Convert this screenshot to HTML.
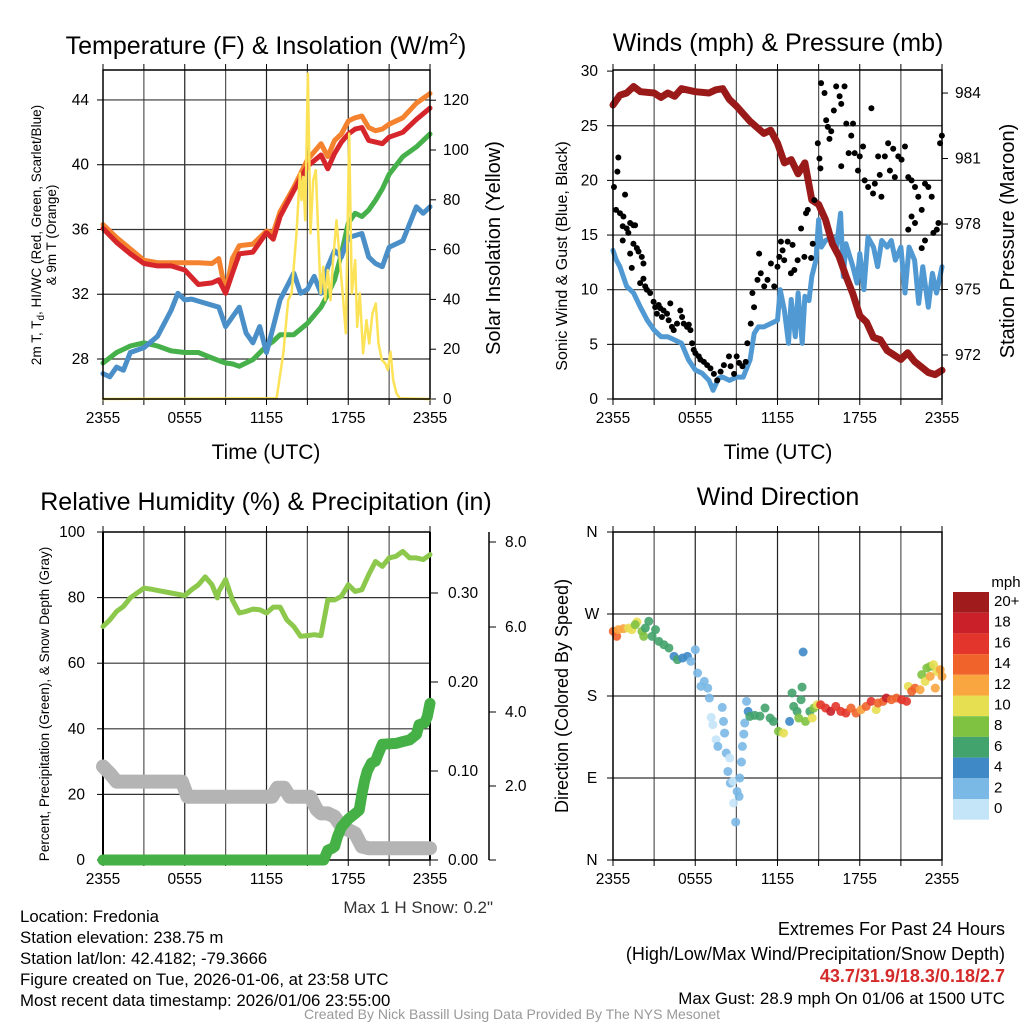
<!DOCTYPE html>
<html><head><meta charset="utf-8"><style>
body{margin:0;background:#fff;width:1024px;height:1024px;overflow:hidden;font-family:"Liberation Sans",sans-serif}
svg text{font-family:"Liberation Sans",sans-serif}
</style></head><body>
<svg id="s" width="1024" height="1024" xmlns="http://www.w3.org/2000/svg"></svg>
<script>
// ---------- Panel 1 data ----------
const tHours=[0,1,2,3,4,5,6,7,8,8.5,9,9.5,10,11,12,12.5,13,14,15,16,16.5,17,17.5,18,18.5,19,19.5,20,20.5,21,22,23,24];
const tRed=[36.06,35.2,34.5,33.9,33.75,33.75,33.5,32.6,32.7,32.9,32.06,33.3,34.5,34.6,35.8,35.4,36.8,38.4,39.9,40.6,39.75,40.7,41.4,41.9,42.2,42.3,41.5,41.4,41.3,41.7,42.0,42.8,43.5];
const tOrange=[36.3,35.5,34.8,34.1,33.95,33.95,33.95,33.95,33.9,34.2,32.1,34.2,35.0,35.1,35.9,35.8,37.1,38.6,40.3,41.3,40.5,41.5,41.9,42.7,42.9,43.0,42.3,42.1,42.2,42.5,42.9,43.8,44.4];
const tGreen=[27.75,28.4,28.8,29.0,28.8,28.5,28.4,28.4,28.06,27.9,27.75,27.7,27.55,27.96,28.8,29.1,29.5,29.5,30.2,31.2,32.0,32.9,34.5,36.4,37.0,36.8,37.2,37.8,38.5,39.4,40.5,41.1,41.9];
const hiHours=[0,0.5,1,1.5,2,3,4,5,5.5,6,6.5,8.5,9,10,10.5,11,11.5,12,12.5,13,14,14.5,15,15.5,16,16.5,17,17.5,18,19,19.5,20,20.5,21,22,23,23.5,24];
const hiBlue=[27.1,26.9,27.5,27.3,28.4,28.7,29.4,31.0,32.06,31.65,31.7,31.2,30.0,31.2,29.6,29.0,30.0,28.4,30.0,31.65,33.3,32.06,32.3,33.1,32.06,33.7,34.7,34.3,35.5,35.75,34.3,33.9,33.7,34.9,35.3,37.4,37.0,37.4];
const solHours=[0,12.74,13.23,13.59,13.84,14.2,14.45,14.57,14.69,14.84,15.04,15.23,15.43,15.62,15.82,15.97,16.16,16.31,16.5,16.7,16.89,17.14,17.38,17.63,17.82,18.07,18.26,18.51,18.66,18.85,19.09,19.34,19.54,19.78,20.02,20.22,20.46,20.71,20.9,21.1,21.3,21.54,21.78,24];
const solar=[0,0.3,18.3,39.7,42.4,66.5,90.6,79.9,89.2,71.8,130.7,66.5,87.9,91.9,63.8,42.4,53.1,39.7,51.8,39.7,55.8,71.8,55.8,39.7,26.4,106.6,42.4,55.8,29,42.4,18.3,31.7,22.3,34.4,38.4,22.3,15.7,14.3,11.6,19,7.6,2.3,0.3,0];
// ---------- Panel 2 data ----------
const pHours=[0,0.5,1,1.5,2,3,3.5,4,4.5,5,6,7,7.5,8,8.5,9,10,11,11.5,12,12.5,13,13.5,14,14.5,15,15.5,16,16.5,17,17.5,18,18.5,19,19.5,20,20.5,21,21.5,22,23,23.5,24];
const pressure=[983.45,983.9,984,984.3,984.06,984,983.8,984,983.85,984.2,984.06,984,984.15,984.2,983.7,983.4,982.7,982.15,982.3,981.7,980.8,980.95,980.3,980.8,979.1,978.9,978.2,977.1,976.5,975.6,974.8,973.8,973.5,972.8,972.7,972.2,972,971.8,972.1,971.7,971.2,971.1,971.3];
const wHours=[0,0.25,0.5,0.75,1,1.5,2,2.5,3,3.5,4,4.5,5,5.5,6,6.5,7,7.3,7.7,8,8.5,9,9.5,10,10.3,10.6,11,11.5,12,12.2,12.5,12.8,13,13.3,13.5,13.8,14,14.3,14.5,14.8,15,15.2,15.5,16,16.3,16.6,16.8,17,17.5,17.8,18,18.3,18.6,19,19.3,19.6,20,20.3,20.6,21,21.3,21.6,22,22.3,22.6,23,23.3,23.6,24];
const wind=[13.6,12.7,12.1,11.2,10.3,9.7,8.4,7.2,6.3,5.7,5.7,5.4,5.1,3.6,2.65,2.35,1.7,0.8,1.9,2.0,1.7,2.0,2.0,3.6,6.0,6.6,6.6,6.9,7.2,10.0,8.1,5.1,9.1,5.7,9.7,5.1,9.4,9.0,11.2,12.7,16.4,13.9,14.5,14.8,13.9,17.0,11.2,14.2,12.1,10.6,13.3,10.0,14.8,13.9,12.1,14.5,13.9,14.5,12.7,13.9,9.7,13.9,12.7,8.75,12.1,8.4,11.5,9.7,12.1];
const gHours=[0.07,0.22,0.39,0.32,0.51,0.76,0.88,0.71,1.0,1.25,1.49,1.61,0.71,1.12,1.25,1.49,1.74,1.86,2.1,2.22,1.37,1.98,2.22,2.35,2.47,2.71,2.96,3.08,3.33,3.45,3.2,3.69,3.57,3.94,4.18,4.06,4.3,4.43,4.67,4.91,5.04,5.16,5.4,5.53,5.65,5.77,5.89,6.01,6.26,6.38,6.63,6.87,7.11,7.36,7.6,7.85,8.09,8.46,8.58,8.83,9.02,9.19,9.44,9.68,9.8,10.05,10.29,10.17,10.54,10.66,10.78,11.03,11.27,11.52,11.76,12.0,12.13,12.25,12.37,12.49,12.74,12.98,13.1,13.23,13.47,13.72,13.96,14.08,14.21,14.45,14.57,14.69,14.94,15.06,15.13,15.18,15.43,15.55,15.67,15.79,15.92,16.11,16.28,16.53,16.65,16.89,17.02,16.65,17.19,17.38,17.51,17.63,17.87,18.0,18.24,18.36,18.61,18.85,18.97,19.1,19.34,19.46,19.58,19.83,20.07,20.2,20.44,20.56,20.81,21.05,21.3,21.54,21.78,22.03,22.27,22.52,22.76,23.0,23.25,23.37,23.62,23.74,23.99,23.86,21.78,21.54,22.76,22.52,22.03];
const gust=[19.4,17.3,22.1,20.8,17.0,16.7,18.7,15.8,15.6,16.1,15.9,15.9,14.5,15.2,13.3,14.2,13.8,13.5,13.0,12.4,12.0,10.6,11.0,10.3,10.0,9.7,8.9,8.4,8.6,8.3,7.8,8.1,7.5,7.8,8.75,7.2,6.6,6.3,6.9,8.1,7.5,6.9,6.6,6.8,6.3,5.1,4.5,4.2,3.9,3.6,3.4,3.1,2.8,2.3,1.7,2.5,3.1,3.9,3.0,2.3,3.9,3.3,3.0,3.4,5.1,6.9,8.4,9.7,10.9,13.3,11.5,10.3,10.9,12.4,10.3,12.1,13.0,14.4,13.6,12.7,14.4,11.5,14.1,11.8,12.7,15.6,13.0,17.0,17.3,12.9,14.2,18.2,23.4,22.0,21.1,28.9,28.0,25.5,24.9,23.8,24.5,26.4,28.6,27.7,27.0,28.6,25.2,21.3,22.5,24.1,25.2,22.5,20.9,22.2,23.1,20.0,19.4,26.6,18.8,19.7,22.2,20.5,18.5,22.2,23.4,20.9,22.9,20.3,22.2,21.9,23.1,20.3,20.0,19.4,18.5,17.3,19.7,19.4,18.5,15.2,15.5,16.1,24.1,23.4,16.7,15.5,14.5,13.8,16.1];
// ---------- Panel 3 data ----------
const rhHours=[0,0.5,1,1.5,2,2.5,3,3.5,4,5,6,6.5,7,7.5,8,8.4,8.5,9,9.5,10,10.5,11,11.5,12,12.5,13,13.5,14,14.5,15,15.5,16,16.5,17,17.5,18,18.5,19,19.5,20,20.5,21,21.5,22,22.5,23,23.5,24];
const rh=[71.2,73.2,75.8,77.3,79.9,81.4,82.9,82.6,82.2,81.4,80.6,82.4,83.9,86.3,83.9,79.9,81.9,85.5,79.3,75.3,75.8,76.5,76.3,75.3,77.1,77.1,73.2,71.2,68.2,68.4,68.7,68.4,79.3,79.3,80.4,83.9,81.9,82.4,87,91,89.5,92.1,92.6,94.1,92.1,92.1,91.6,93.1];
const snowHours=[0,0.5,1,5.8,6.2,12.4,12.8,13.3,13.7,15.2,15.7,16,16.5,17,17.5,18.5,19,19.5,24];
const snowDepth=[28.5,26.4,23.9,23.9,19.3,19.3,22.0,22.0,19.3,19.3,15.3,14.2,14.2,13.2,10.2,8.1,4.1,3.6,3.6];
const prHours=[0,16.2,16.5,16.8,17,17.2,17.5,18,18.5,18.8,19,19.2,19.4,19.7,20,20.2,20.5,21.5,22,22.5,23,23.2,23.6,23.8,24];
const precip=[0,0,0.011,0.013,0.015,0.026,0.037,0.046,0.052,0.056,0.074,0.089,0.1,0.109,0.111,0.119,0.13,0.131,0.133,0.135,0.141,0.152,0.154,0.161,0.176];
// ---------- Panel 4 data ----------
const dHours=[0.02,0.27,0.39,0.76,1.13,1.38,1.75,1.62,2.11,2.24,2.36,2.61,2.85,3.1,3.34,3.71,4.08,4.45,4.7,5.07,5.43,5.68,6.0,6.17,6.42,6.66,6.91,7.03,7.16,7.28,7.52,7.65,7.97,8.06,8.14,8.26,8.38,8.51,8.56,8.75,8.8,8.95,9.05,9.2,9.25,9.37,9.44,9.54,9.61,9.74,9.86,9.98,10.35,10.72,11.09,11.46,11.7,12.07,12.44,12.88,13.06,13.18,13.43,13.55,13.72,13.79,13.87,14.04,14.36,14.53,14.65,14.9,15.15,15.51,15.88,16.25,16.62,16.99,17.36,17.73,18.1,18.47,18.83,19.2,19.33,19.7,19.94,20.31,20.68,21.05,21.42,21.54,21.79,22.03,22.4,22.52,22.77,22.89,23.14,23.38,23.51,23.63,23.87,24.0,23.14];
const dDir=[251,245.5,252.8,253.9,254.6,252.8,261.2,258.3,251,245.5,254.6,262,245.5,252.8,240,236.3,232.7,223.5,219.9,221.7,223.5,218,230.8,205.2,190.6,196,188.7,177.8,156.5,148.5,132,124.7,167.5,152.1,139.3,117.4,97.2,111.9,84.4,86.3,62.5,41.6,75.3,69.8,90,107.5,124.7,138.2,150.3,174.1,163.1,157.6,158.7,157.9,166.8,155.8,152.1,141.2,139.3,152.1,183.3,168.6,163.1,155.8,175.9,189.8,228.3,152.1,163.1,155.8,166.8,170.4,170.4,166.8,163.1,168.6,163.1,161.3,166.8,161.3,165,168.6,174.1,165,172.3,174.1,177.8,175.9,177.8,175.9,174.1,190.6,185.1,188.7,186.9,203.4,196,210.7,212.5,214.4,188.7,207,208.9,201.6,201.6];
const dSpeed=[14,15,13,12,11,10,10,9,8,8,7,6,6,6,6,6,6,5,6,4,4,3,3,3,2,2,2,2,1,0,0,2,2,2,2,2,2,0,2,0,0,2,2,2,2,2,2,2,2,2,4,6,6,6,6,6,6,9,10,4,7,6,7,8,7,6,4,8,7,10,9,11,17,17,18,17,16,16,15,14,13,14,17,10,14,15,18,14,15,16,17,10,14,15,12,9,10,8,9,10,12,11,13,12,12];
const cbLabels=["20+","18","16","14","12","10","8","6","4","2","0"];
const cbColors=["#a01c1c","#c9202a","#e3352b","#f0642c","#f9a540","#e7df52","#7fc241","#43a36c","#3f8ac6","#7ab8e6","#c4e4f8"];

const NS="http://www.w3.org/2000/svg";
const svg=document.getElementById('s');
const TK=15.5;
function mk(tag,attrs,parent,name,inter){const e=document.createElementNS(NS,tag);for(const k in attrs)e.setAttribute(k,attrs[k]);(parent||svg).appendChild(e);


return e;}
function txt(x,y,s,size,anchor,name,extra){const t=mk('text',Object.assign({x:x,y:y,'font-size':size,'text-anchor':anchor||'middle',fill:'#000'},extra||{}),null,name);t.textContent=s;return t;}
function poly(xs,ys,fx,fy,stroke,w,name){let d='';for(let i=0;i<xs.length;i++)d+=(i?'L':'M')+fx(xs[i]).toFixed(1)+' '+fy(ys[i]).toFixed(1);
return mk('path',{d:d,fill:'none',stroke:stroke,'stroke-width':w,'stroke-linejoin':'round','stroke-linecap':'round'},null,name);}
const xt=["2355","0555","1155","1755","2355"];
function frame(x0,x1,y0,y1,hGrid,pfx){
  const xs=h=>x0+h*(x1-x0)/24;
  for(let k=1;k<8;k++){const x=xs(k*3);mk('line',{x1:x,x2:x,y1:y0,y2:y1,stroke:k%2?'#555':'#222','stroke-width':1.2},null,pfx+'-vgrid');}
  hGrid.forEach(y=>mk('line',{x1:x0,x2:x1,y1:y,y2:y,stroke:'#333','stroke-width':1.2},null,pfx+'-hgrid'));
  for(let k=0;k<=8;k++){const x=xs(k*3);mk('line',{x1:x,x2:x,y1:y1,y2:y1+6,stroke:'#000'},null,pfx+'-xtick');mk('line',{x1:x,x2:x,y1:y0,y2:y0-6,stroke:'#000'},null,pfx+'-xtick-top');}
  xt.forEach((s,i)=>txt(xs(i*6),y1+24,s,TK,'middle',pfx+'-xtick-label'));
  return xs;
}
function border(x0,x1,y0,y1,pfx){mk('rect',{x:x0,y:y0,width:x1-x0,height:y1-y0,fill:'none',stroke:'#000','stroke-width':1.5},null,pfx+'-plot-border');}

// ===== Panel 1 =====
{const X0=103,X1=430,Y0=70,Y1=399;
const yT=v=>359-(v-28)*16.19, yI=v=>399-v*2.49;
const xs=frame(X0,X1,Y0,Y1,[28,32,36,40,44].map(yT),'p1');
[28,32,36,40,44].forEach(v=>{txt(89,yT(v)+5,String(v),TK,'end','p1-ytick-label');mk('line',{x1:97,x2:103,y1:yT(v),y2:yT(v),stroke:'#000'},null,'p1-ytick');});
[0,20,40,60,80,100,120].forEach(v=>{txt(443,yI(v)+5,String(v),TK,'start','p1-y2tick-label');mk('line',{x1:430,x2:436,y1:yI(v),y2:yI(v),stroke:'#000'},null,'p1-y2tick');});
poly(tHours,tGreen,xs,yT,'#46b04a',5,'dewpoint-line');
poly(hiHours,hiBlue,xs,yT,'#4a8fc8',5,'heat-index-wind-chill-line');
poly(tHours,tOrange,xs,yT,'#f4822e',5,'temp-9m-line');
poly(tHours,tRed,xs,yT,'#d7262b',5,'temp-2m-line');
poly(solHours,solar,xs,yI,'#fce256',2.5,'solar-insolation-line');
border(X0,X1,Y0,Y1,'p1');
const t=txt(266,54,'Temperature (F) & Insolation (W/m',25,'middle','p1-title');const ts=document.createElementNS(NS,'tspan');ts.setAttribute('dy','-10');ts.setAttribute('font-size','16');ts.textContent='2';t.appendChild(ts);const ts2=document.createElementNS(NS,'tspan');ts2.setAttribute('dy','10');ts2.textContent=')';t.appendChild(ts2);
txt(266,459,'Time (UTC)',21,'middle','p1-x-axis-title');
txt(0,0,'2m T',13.5,'middle','p1-y-axis-title',{transform:'translate(41,235) rotate(-90)'}).innerHTML='2m T, T<tspan font-size="10" dy="3">d</tspan><tspan dy="-3">, HI/WC (Red, Green, Scarlet/Blue)</tspan>';
txt(0,0,'& 9m T (Orange)',13.5,'middle','p1-y-axis-title-line2',{transform:'translate(56,235) rotate(-90)'});
txt(0,0,'Solar Insolation (Yellow)',20,'middle','p1-y2-axis-title',{transform:'translate(500,248) rotate(-90)'});
}
// ===== Panel 2 =====
{const X0=613,X1=942,Y0=70,Y1=399;
const yW=v=>399-v*10.93, yP=p=>355-(p-972)*21.83;
const xs=frame(X0,X1,Y0,Y1,[5,10,15,20,25].map(yW),'p2');
[0,5,10,15,20,25,30].forEach(v=>{txt(598,yW(v)+5,String(v),TK,'end','p2-ytick-label');mk('line',{x1:607,x2:613,y1:yW(v),y2:yW(v),stroke:'#000'},null,'p2-ytick');});
[972,975,978,981,984].forEach(v=>{txt(955,yP(v)+5,String(v),TK,'start','p2-y2tick-label');mk('line',{x1:942,x2:948,y1:yP(v),y2:yP(v),stroke:'#000'},null,'p2-y2tick');});
poly(wHours,wind,xs,yW,'#5099d3',5,'sonic-wind-line');
poly(pHours,pressure,xs,yP,'#9a1a1a',7,'pressure-line');
for(let i=0;i<gHours.length;i++){const c=mk('circle',{cx:xs(gHours[i]),cy:yW(gust[i]),r:3,fill:'#000'},null,'gust-point');}
border(X0,X1,Y0,Y1,'p2');
txt(778,51,'Winds (mph) & Pressure (mb)',25,'middle','p2-title');
txt(778,459,'Time (UTC)',21,'middle','p2-x-axis-title');
txt(0,0,'Sonic Wind & Gust (Blue, Black)',16,'middle','p2-y-axis-title',{transform:'translate(567,256) rotate(-90)'});
txt(0,0,'Station Pressure (Maroon)',20,'middle','p2-y2-axis-title',{transform:'translate(1014,241) rotate(-90)'});
}
// ===== Panel 3 =====
{const X0=103,X1=430,Y0=532,Y1=860;
const yR=v=>860-v*3.28, yPr=v=>860-v*890;
const xs=frame(X0,X1,Y0,Y1,[20,40,60,80].map(yR),'p3');
[0,20,40,60,80,100].forEach(v=>{txt(85,yR(v)+5,String(v),TK,'end','p3-ytick-label');mk('line',{x1:97,x2:103,y1:yR(v),y2:yR(v),stroke:'#000'},null,'p3-ytick');});
[0,0.1,0.2,0.3].forEach(v=>{txt(448,yPr(v)+5,v.toFixed(2),TK,'start','p3-precip-tick-label');mk('line',{x1:430,x2:438,y1:yPr(v),y2:yPr(v),stroke:'#000'},null,'p3-precip-tick');});
[[0,860],[2,786],[4,712],[6,627],[8,542]].forEach(p=>{if(p[0]>0)txt(505,p[1]+5,p[0].toFixed(1),TK,'start','p3-snow-tick-label');mk('line',{x1:489,x2:496,y1:p[1],y2:p[1],stroke:'#000'},null,'p3-snow-tick');});
mk('line',{x1:489,x2:489,y1:532,y2:860,stroke:'#000','stroke-width':1.5},null,'p3-snow-axis');
mk('line',{x1:X0,x2:X1,y1:Y0,y2:Y0,stroke:'#000','stroke-width':1.5},null,'p3-top-axis');
mk('line',{x1:X0,x2:X0,y1:Y0,y2:Y1,stroke:'#000','stroke-width':2},null,'p3-left-axis');
mk('line',{x1:X1,x2:X1,y1:Y0,y2:Y1,stroke:'#000','stroke-width':2},null,'p3-right-axis');
mk('line',{x1:X0,x2:X1,y1:Y1,y2:Y1,stroke:'#000','stroke-width':1.5},null,'p3-bottom-axis');
poly(snowHours,snowDepth,xs,yR,'#b4b4b4',14,'snow-depth-line');
poly(prHours,precip,xs,yPr,'#45b046',11,'precipitation-line');
poly(rhHours,rh,xs,yR,'#8cc84c',5,'relative-humidity-line');
txt(266,510,'Relative Humidity (%) & Precipitation (in)',25,'middle','p3-title');
txt(0,0,'Percent, Precipitation (Green), & Snow Depth (Gray)',13.5,'middle','p3-y-axis-title',{transform:'translate(49,704) rotate(-90)'});
txt(493,913,'Max 1 H Snow: 0.2"',17,'end','max-snow-note',{fill:'#333'});
}
// ===== Panel 4 =====
{const X0=613,X1=942,Y0=532,Y1=860;
const yD=d=>860-d*0.9111;
const xs=frame(X0,X1,Y0,Y1,[270,180,90].map(yD),'p4');
[['N',360],['W',270],['S',180],['E',90],['N',0]].forEach(p=>{txt(592,yD(p[1])+5,p[0],TK,'middle','p4-ytick-label');mk('line',{x1:607,x2:613,y1:yD(p[1]),y2:yD(p[1]),stroke:'#000'},null,'p4-ytick');});
for(let i=0;i<dHours.length;i++){const ci=Math.max(0,Math.min(10,10-Math.floor(dSpeed[i]/2)));
mk('circle',{cx:xs(dHours[i]),cy:yD(dDir[i]),r:4.5,fill:cbColors[ci],'fill-opacity':0.9},null,'direction-point');}
border(X0,X1,Y0,Y1,'p4');
txt(778,505,'Wind Direction',25,'middle','p4-title');
txt(0,0,'Direction (Colored By Speed)',18,'middle','p4-y-axis-title',{transform:'translate(568,696) rotate(-90)'});
txt(1006,587,'mph',15,'middle','colorbar-title');
cbLabels.forEach((l,i)=>{const y=592+i*20.7;mk('rect',{x:953,y:y,width:36,height:20.7,fill:cbColors[i]},null,'colorbar-box');txt(994,y+14,l,15,'start','colorbar-label');});
}
// ===== footer =====
['Location: Fredonia','Station elevation: 238.75 m','Station lat/lon: 42.4182; -79.3666','Figure created on Tue, 2026-01-06, at 23:58 UTC','Most recent data timestamp: 2026/01/06 23:55:00'].forEach((s,i)=>txt(20,922+i*21,s,16.8,'start','station-info-line'));
txt(1005,935,'Extremes For Past 24 Hours',18,'end','extremes-title');
txt(1005,960,'(High/Low/Max Wind/Precipitation/Snow Depth)',18,'end','extremes-subtitle');
txt(1005,982,'43.7/31.9/18.3/0.18/2.7',18,'end','extremes-values',{fill:'#d42a2a','font-weight':'bold'});
txt(1005,1004,'Max Gust: 28.9 mph On 01/06 at 1500 UTC',16.9,'end','max-gust');
txt(512,1019,'Created By Nick Bassill Using Data Provided By The NYS Mesonet',14,'middle','credit-line',{fill:'#999'});
</script>
</body></html>
